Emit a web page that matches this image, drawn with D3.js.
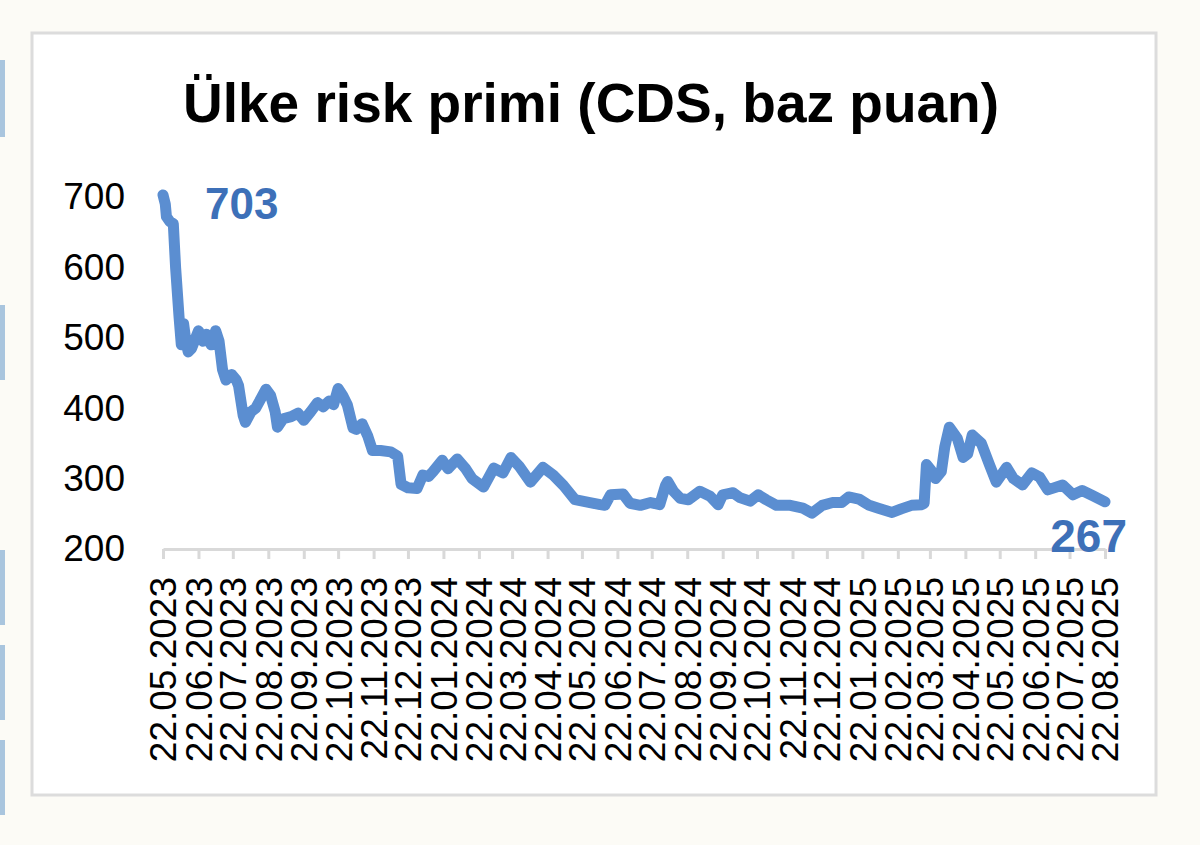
<!doctype html>
<html>
<head>
  <meta charset="utf-8">
  <script src="https://d3js.org/d3.v7.min.js"></script>
</head>
<style>
  body {
    margin: 0;
    background: #fcfbf6;
  }

  svg text {
    font-family: "Liberation Sans", Arial, sans-serif;
  }
</style>
<body>
<svg></svg>

<script>
  const title = "Ülke risk primi (CDS, baz puan)";

  const dates = [
    "2023-05-22", "2023-05-24", "2023-05-25", "2023-05-28", "2023-05-31", "2023-06-02", "2023-06-05", "2023-06-07",
    "2023-06-09", "2023-06-11", "2023-06-13", "2023-06-16", "2023-06-22", "2023-06-26", "2023-06-29", "2023-07-03",
    "2023-07-07", "2023-07-10", "2023-07-13", "2023-07-16", "2023-07-21", "2023-07-25", "2023-07-27", "2023-07-31",
    "2023-08-02", "2023-08-07", "2023-08-11", "2023-08-16", "2023-08-20", "2023-08-24", "2023-08-28", "2023-08-30",
    "2023-09-04", "2023-09-11", "2023-09-17", "2023-09-22", "2023-09-28", "2023-10-04", "2023-10-09", "2023-10-14",
    "2023-10-18", "2023-10-22", "2023-10-26", "2023-10-30", "2023-11-04", "2023-11-07", "2023-11-12", "2023-11-17",
    "2023-11-21", "2023-11-28", "2023-12-07", "2023-12-13", "2023-12-16", "2023-12-22", "2023-12-30", "2024-01-04",
    "2024-01-09", "2024-01-13", "2024-01-21", "2024-01-26", "2024-02-03", "2024-02-10", "2024-02-16", "2024-02-26",
    "2024-03-06", "2024-03-14", "2024-03-21", "2024-03-28", "2024-04-07", "2024-04-18", "2024-04-27", "2024-05-06",
    "2024-05-16", "2024-05-29", "2024-06-07", "2024-06-11", "2024-06-16", "2024-06-27", "2024-07-03", "2024-07-12",
    "2024-07-21", "2024-07-29", "2024-08-03", "2024-08-05", "2024-08-10", "2024-08-16", "2024-08-23", "2024-09-02",
    "2024-09-11", "2024-09-18", "2024-09-22", "2024-10-01", "2024-10-07", "2024-10-16", "2024-10-23", "2024-10-30",
    "2024-11-08", "2024-11-20", "2024-12-01", "2024-12-09", "2024-12-18", "2024-12-27", "2025-01-04", "2025-01-10",
    "2025-01-19", "2025-01-28", "2025-02-05", "2025-02-17", "2025-02-25", "2025-03-06", "2025-03-15", "2025-03-17",
    "2025-03-19", "2025-03-23", "2025-03-27", "2025-04-01", "2025-04-04", "2025-04-08", "2025-04-15", "2025-04-20",
    "2025-04-24", "2025-04-28", "2025-05-06", "2025-05-13", "2025-05-19", "2025-05-28", "2025-06-03", "2025-06-11",
    "2025-06-19", "2025-06-26", "2025-07-03", "2025-07-16", "2025-07-25", "2025-08-02", "2025-08-11", "2025-08-22"
  ];

  const cds = [
    703, 690, 672, 665, 662, 600, 530, 490,
    520, 495, 480, 485, 510, 495, 505, 490,
    510, 495, 455, 440, 448, 440, 432, 390,
    380, 395, 400, 415, 427, 418, 395, 373,
    385, 388, 393, 383, 395, 408, 402, 410,
    405, 428, 418, 405, 372, 370, 378, 360,
    340, 340, 338, 332, 292, 287, 286, 305,
    303, 310, 326, 314, 328, 315, 300, 288,
    315, 308, 330, 318, 295, 316, 305, 290,
    270, 266, 263, 262, 277, 278, 265, 262,
    266, 263, 290, 296, 282, 272, 270, 282,
    275, 263, 277, 280, 273, 268, 277, 270,
    262, 262, 258, 251, 262, 266, 266, 274,
    271, 262, 258, 252, 257, 262, 263, 265,
    320, 312, 300, 310, 345, 373, 357, 330,
    335, 362, 350, 320, 295, 316, 300, 291,
    308, 302, 284, 291, 277, 283, 276, 267
  ];

  const tickDates = [
    "2023-05-22", "2023-06-22", "2023-07-22", "2023-08-22", "2023-09-22", "2023-10-22", "2023-11-22",
    "2023-12-22", "2024-01-22", "2024-02-22", "2024-03-22", "2024-04-22", "2024-05-22", "2024-06-22",
    "2024-07-22", "2024-08-22", "2024-09-22", "2024-10-22", "2024-11-22", "2024-12-22", "2025-01-22",
    "2025-02-22", "2025-03-22", "2025-04-22", "2025-05-22", "2025-06-22", "2025-07-22", "2025-08-22"
  ];

  const yTicks = [200, 300, 400, 500, 600, 700];

  const width = 1200, height = 845;
  const lineColor = "#5b8ed1";
  const labelColor = "#3d70b8";
  const gridGrey = "#d9d9d9";

  const parse = d3.timeParse("%Y-%m-%d");
  const data = dates.map((d, i) => ({date: parse(d), value: cds[i]}));

  const xScale = d3.scaleTime()
    .domain([parse(dates[0]), parse(dates[dates.length - 1])])
    .range([163, 1105]);
  const yScale = d3.scaleLinear()
    .domain([200, 700])
    .range([549, 197]);

  const svg = d3.select("svg")
    .attr("width", width)
    .attr("height", height);

  // side bits of the page around the chart
  [[60, 137], [305, 380], [550, 625], [645, 720], [740, 815]].forEach(function (b) {
    svg.append("rect")
      .attr("x", 0).attr("y", b[0])
      .attr("width", 5).attr("height", b[1] - b[0])
      .attr("fill", "#a9c5de");
  });

  svg.append("rect")
    .attr("x", 32).attr("y", 33)
    .attr("width", 1124).attr("height", 762)
    .attr("fill", "#ffffff")
    .attr("stroke", "#dcdcdc")
    .attr("stroke-width", 3);

  svg.append("text")
    .attr("x", 591)
    .attr("y", 122)
    .attr("text-anchor", "middle")
    .attr("font-size", 55)
    .attr("font-weight", "bold")
    .attr("fill", "#000")
    .text(title);

  // y axis: labels only
  const yAxis = d3.axisLeft(yScale)
    .tickValues(yTicks)
    .tickSize(0)
    .tickPadding(38);
  const gy = svg.append("g")
    .attr("transform", "translate(163,0)")
    .call(yAxis);
  gy.select(".domain").remove();
  gy.selectAll("text")
    .attr("font-size", 37)
    .attr("font-family", "Liberation Sans, Arial, sans-serif")
    .attr("fill", "#000");

  // x axis
  const xAxis = d3.axisBottom(xScale)
    .tickValues(tickDates.map(parse))
    .tickSize(10)
    .tickSizeOuter(0)
    .tickFormat(d3.timeFormat("%d.%m.%Y"));
  const gx = svg.append("g")
    .attr("transform", "translate(0,549)")
    .call(xAxis);
  gx.select(".domain")
    .attr("stroke", gridGrey)
    .attr("stroke-width", 3);
  gx.selectAll(".tick line")
    .attr("stroke", gridGrey)
    .attr("stroke-width", 3);
  gx.selectAll(".tick text")
    .attr("font-size", 37)
    .attr("font-family", "Liberation Sans, Arial, sans-serif")
    .attr("fill", "#000")
    .attr("text-anchor", "end")
    .attr("transform", "rotate(-90)")
    .attr("x", -28)
    .attr("y", 0)
    .attr("dy", "0.35em");

  const line = d3.line()
    .x(d => xScale(d.date))
    .y(d => yScale(d.value));

  svg.append("path")
    .datum(data)
    .attr("fill", "none")
    .attr("stroke", lineColor)
    .attr("stroke-width", 11)
    .attr("stroke-linejoin", "round")
    .attr("stroke-linecap", "round")
    .attr("d", line);

  const first = data[0], last = data[data.length - 1];
  svg.append("text")
    .attr("x", xScale(first.date) + 42)
    .attr("y", yScale(first.value) + 24)
    .attr("font-size", 44)
    .attr("font-weight", "bold")
    .attr("fill", labelColor)
    .text(first.value);
  svg.append("text")
    .attr("x", xScale(last.date) + 22)
    .attr("y", yScale(last.value) + 50)
    .attr("text-anchor", "end")
    .attr("font-size", 46)
    .attr("font-weight", "bold")
    .attr("fill", labelColor)
    .text(last.value);
</script>
</body>
</html>
